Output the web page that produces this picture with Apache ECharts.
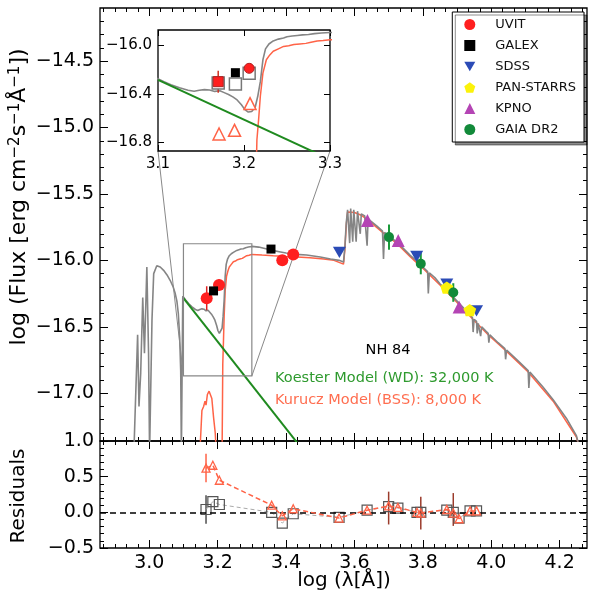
<!DOCTYPE html>
<html>
<head>
<meta charset="utf-8">
<script src="https://cdn.jsdelivr.net/npm/echarts@6/dist/echarts.min.js"></script>
<style>
html, body { margin: 0; padding: 0; background: #fff; }
#chart { width: 593px; height: 605px; }
</style>
</head>
<body>
<div id="chart"></div>
<script>
// composite model (WD + BSS), log lambda / log flux
const grayX = [2.955, 2.966, 2.970, 2.975, 2.981, 2.986, 2.993, 2.998, 3.001, 3.004, 3.008, 3.013, 3.022, 3.032, 3.042, 3.052, 3.061, 3.070, 3.076, 3.081, 3.085, 3.089, 3.092, 3.094, 3.096,
  3.098, 3.107, 3.115, 3.125, 3.135, 3.142, 3.148, 3.154, 3.160, 3.166, 3.172, 3.177, 3.182, 3.187, 3.192, 3.197, 3.201, 3.205, 3.209, 3.213, 3.216, 3.219, 3.222, 3.225, 3.229, 3.234,
  3.240, 3.246, 3.250, 3.256, 3.262, 3.268, 3.275, 3.282, 3.290, 3.300, 3.320, 3.344, 3.360, 3.380, 3.400, 3.430, 3.460, 3.500, 3.530, 3.555, 3.568, 3.572, 3.576, 3.580,
  3.584, 3.586, 3.589, 3.593, 3.595, 3.598, 3.602, 3.605, 3.609, 3.614, 3.617, 3.620, 3.630, 3.635, 3.637, 3.640, 3.646, 3.665, 3.682, 3.685, 3.688, 3.705, 3.724, 3.745, 3.763,
  3.780, 3.800, 3.814, 3.816, 3.819, 3.835, 3.850, 3.870, 3.889, 3.905, 3.930, 3.945, 3.947, 3.950, 3.957, 3.959, 3.962, 3.967, 3.969, 3.972, 3.985, 3.991, 3.993, 3.996,
  4.020, 4.040, 4.042, 4.045, 4.080, 4.108, 4.110, 4.113, 4.150, 4.181, 4.220, 4.249, 4.262];
const grayY = [-17.45, -16.56, -17.10, -16.85, -16.28, -16.70, -16.05, -16.70, -17.45, -17.45, -16.45, -16.10, -16.04, -16.05, -16.075, -16.11, -16.15, -16.20, -16.25, -16.31, -16.40, -16.58, -16.83, -17.45, -17.45,
  -16.27, -16.30, -16.325, -16.35, -16.37, -16.378, -16.37, -16.365, -16.368, -16.38, -16.375, -16.39, -16.405, -16.425, -16.45, -16.49, -16.53, -16.55, -16.545, -16.51, -16.42, -16.30, -16.12, -16.03, -15.99, -15.965,
  -15.95, -15.94, -15.93, -15.925, -15.92, -15.915, -15.912, -15.905, -15.90, -15.895, -15.90, -15.915, -15.925, -15.935, -15.945, -15.955, -15.96, -15.975, -15.99, -16.0, -16.013, -15.90, -15.72, -15.62,
  -15.61, -15.87, -15.61, -15.615, -15.86, -15.62, -15.625, -15.86, -15.63, -15.64, -15.80, -15.65, -15.665, -15.675, -15.89, -15.685, -15.70, -15.74, -15.78, -15.99, -15.79, -15.825, -15.862, -15.915, -15.962,
  -16.0, -16.05, -16.085, -16.25, -16.095, -16.13, -16.176, -16.225, -16.277, -16.32, -16.39, -16.43, -16.54, -16.445, -16.46, -16.55, -16.475, -16.49, -16.57, -16.50, -16.535, -16.55, -16.62, -16.56,
  -16.62, -16.665, -16.745, -16.675, -16.76, -16.83, -16.96, -16.84, -16.95, -17.05, -17.19, -17.32, -17.45];

// Kurucz model (BSS, 8000 K)
const bssX = [3.148, 3.154, 3.159, 3.163, 3.166, 3.170, 3.175, 3.180, 3.183, 3.188, 3.193, 3.196, 3.213, 3.215, 3.217, 3.219, 3.222, 3.226, 3.230, 3.234, 3.240, 3.246,
  3.252, 3.258, 3.265, 3.272, 3.278, 3.285, 3.292, 3.300, 3.330, 3.363, 3.400, 3.420, 3.470, 3.510, 3.540, 3.568, 3.572, 3.576, 3.580, 3.600, 3.620, 3.646, 3.685,
  3.724, 3.763, 3.800, 3.850, 3.889, 3.945, 3.991, 4.045, 4.108, 4.181, 4.249, 4.262];
const bssY = [-17.45, -17.13, -17.10, -17.06, -17.09, -17.01, -16.985, -16.97, -17.04, -17.18, -17.30, -17.45, -17.45, -16.78, -16.61, -16.42, -16.23, -16.12, -16.08, -16.05, -16.03, -16.01,
  -16.005, -15.995, -15.99, -15.985, -15.975, -15.965, -15.962, -15.955, -15.96, -15.965, -15.97, -15.972, -15.98, -15.99, -16.0, -16.028, -15.92, -15.74, -15.635, -15.64, -15.66, -15.71, -15.795,
  -15.872, -15.972, -16.06, -16.186, -16.287, -16.44, -16.56, -16.685, -16.84, -17.06, -17.33, -17.45];

// Koester model (WD, 32000 K)
const wdX = [3.10, 3.45];
const wdY = [-16.285, -17.43];

// photometry
const uvitX = [3.168, 3.204, 3.389, 3.421];
const uvitY = [-16.285, -16.185, -16.0, -15.955];
const uvitErr = [0.09, 0.04, 0.03, 0.03];
const galexX = [3.188, 3.356];
const galexY = [-16.23, -15.915];
const sdssX = [3.556, 3.782, 3.870, 3.957];
const sdssY = [-15.94, -15.97, -16.18, -16.38];
const psX = [3.870, 3.937];
const psY = [-16.205, -16.375];
const kpnoX = [3.638, 3.728, 3.906];
const kpnoY = [-15.70, -15.85, -16.352];
const gaiaX = [3.701, 3.794, 3.889];
const gaiaY = [-15.825, -16.025, -16.242];
const gaiaErr = [0.095, 0.08, 0.07];

// inset photometry
const insUvitX = [3.170, 3.206];
const insUvitY = [-16.30, -16.19];
const insUvitErr = [0.09, 0.02];
const insGalexX = [3.190];
const insGalexY = [-16.226];
const synCompX = [3.170, 3.190, 3.206];
const synCompY = [-16.31, -16.32, -16.23];
const synBssX = [3.171, 3.189, 3.207];
const synBssY = [-16.73, -16.70, -16.48];

// residuals
const resX = [3.166, 3.186, 3.205, 3.358, 3.389, 3.421, 3.555, 3.637, 3.700, 3.727, 3.783, 3.794, 3.870, 3.889, 3.906, 3.938, 3.957];
const resBss = [0.62, 0.66, 0.45, 0.10, -0.05, 0.05, -0.08, 0.03, 0.09, 0.07, 0.0, -0.01, 0.04, -0.01, -0.09, 0.02, 0.02];
const resComp = [0.04, 0.15, 0.11, 0.0, -0.15, -0.02, -0.07, 0.03, 0.08, 0.06, 0.0, 0.0, 0.03, 0.0, -0.08, 0.02, 0.02];
const resGaiaX = [3.700, 3.794, 3.889];
const resGaiaY = [0.06, -0.01, 0.04];
const resGaiaErr = [0.23, 0.23, 0.23];

// axis ranges and ticks
const mainX = [2.856, 4.28], mainY = [-17.36, -14.1], resY = [-0.5, 1.0];
const insetX = [3.1, 3.3], insetY = [-16.87, -15.875];
const xMajor = [3.0, 3.2, 3.4, 3.6, 3.8, 4.0, 4.2];
const xMinor = [];
for (let k = -4; k <= 38; k++) xMinor.push(+(3 + k / 30).toFixed(4));
const yMajor = [-17.0, -16.5, -16.0, -15.5, -15.0, -14.5];
const yMinor = [];
for (let k = -173; k <= -142; k++) yMinor.push(k / 10);
const resYMajor = [-0.5, 0.0, 0.5, 1.0];
const resYMinor = [];
for (let k = -4; k <= 9; k++) resYMinor.push(k / 10);
const insetXTicks = [3.1, 3.2, 3.3];
const insetYTicks = [-16.8, -16.4, -16.0];

const FONT = '"DejaVu Sans", sans-serif';
const RED = '#ff6347';
const fmt1 = v => v.toFixed(1).replace('-', '\u2212');
const zip = (xs, ys) => xs.map((x, i) => [x, ys[i]]);
const zip3 = (xs, ys, es) => xs.map((x, i) => [x, ys[i], es[i]]);

function axis(grid, range, pos, ticks, len, labels, fontSize, z) {
  const a = {
    type: 'value', gridIndex: grid, min: range[0], max: range[1], position: pos, z: z || 0,
    axisLine: { show: false, onZero: false }, splitLine: { show: false },
    axisTick: { show: true, inside: true, length: len, customValues: ticks, lineStyle: { color: '#000', width: 1 } },
    axisLabel: { show: false }
  };
  if (labels) {
    a.axisLabel = { show: true, customValues: labels, formatter: fmt1, margin: 6,
      color: '#000', fontFamily: FONT, fontSize: fontSize };
  }
  return a;
}

const lineS = (name, xi, yi, data, color, width, z) => ({
  name, type: 'line', xAxisIndex: xi, yAxisIndex: yi, data, symbol: 'none', showSymbol: false,
  lineStyle: { color, width }, itemStyle: { color }, z, silent: true, clip: true
});
const scat = (name, xi, yi, data, symbol, size, color, z, extra) => ({
  name, type: 'scatter', xAxisIndex: xi, yAxisIndex: yi, data, symbol, symbolSize: size, symbolKeepAspect: true,
  itemStyle: Object.assign({ color, opacity: 1 }, extra || {}), z, silent: true
});
const errS = (xi, yi, data, color, width, z) => ({
  type: 'custom', xAxisIndex: xi, yAxisIndex: yi, data, z, silent: true, clip: true,
  renderItem: (p, api) => {
    const a = api.coord([api.value(0), api.value(1) - api.value(2)]);
    const b = api.coord([api.value(0), api.value(1) + api.value(2)]);
    return { type: 'line', shape: { x1: a[0], y1: a[1], x2: b[0], y2: b[1] },
      style: { stroke: color, lineWidth: width } };
  }
});

const DOWN = 'path://M0,0L100,0L50,87Z';
const PENT = 'path://M50,0L97.6,34.5L79.4,90.5L20.6,90.5L2.4,34.5Z';

const chart = echarts.init(document.getElementById('chart'), null, { renderer: 'canvas' });

const option = {
  animation: false,
  backgroundColor: '#fff',
  grid: [
    { left: 100, top: 8, width: 487, height: 433, show: true, borderColor: '#000', borderWidth: 1.3, backgroundColor: 'transparent' },
    { left: 100, top: 441, width: 487, height: 107, show: true, borderColor: '#000', borderWidth: 1.3, backgroundColor: 'transparent' },
    { left: 158, top: 30, width: 172, height: 121, show: true, borderColor: '#000', borderWidth: 1.3, backgroundColor: '#fff', z: 5 }
  ],
  xAxis: [
    axis(0, mainX, 'bottom', xMajor, 8),
    axis(0, mainX, 'bottom', xMinor, 4),
    axis(0, mainX, 'top', xMajor, 8),
    axis(0, mainX, 'top', xMinor, 4),
    axis(1, mainX, 'bottom', xMajor, 8, xMajor, 19),
    axis(1, mainX, 'bottom', xMinor, 4),
    axis(1, mainX, 'top', xMajor, 8),
    axis(1, mainX, 'top', xMinor, 4),
    axis(2, insetX, 'bottom', insetXTicks, 6, insetXTicks, 15, 6),
    axis(2, insetX, 'top', insetXTicks, 6, null, 0, 6)
  ],
  yAxis: [
    axis(0, mainY, 'left', yMajor, 8, yMajor, 19),
    axis(0, mainY, 'left', yMinor, 4),
    axis(0, mainY, 'right', yMajor, 8),
    axis(0, mainY, 'right', yMinor, 4),
    axis(1, resY, 'left', resYMajor, 8, resYMajor, 19),
    axis(1, resY, 'left', resYMinor, 4),
    axis(1, resY, 'right', resYMajor, 8),
    axis(1, resY, 'right', resYMinor, 4),
    axis(2, insetY, 'left', insetYTicks, 6, insetYTicks, 15, 6),
    axis(2, insetY, 'right', insetYTicks, 6, null, 0, 6)
  ],
  legend: {
    data: ['UVIT', 'GALEX', 'SDSS', 'PAN-STARRS', 'KPNO', 'GAIA DR2'],
    orient: 'vertical', right: 9, top: 12,
    itemWidth: 11, itemHeight: 11, itemGap: 8, symbolKeepAspect: true,
    padding: [6, 8, 6, 12],
    backgroundColor: '#fff', borderColor: '#000', borderWidth: 1, borderRadius: 0,
    shadowColor: 'rgba(0,0,0,0.45)', shadowOffsetX: 3, shadowOffsetY: 3, shadowBlur: 0,
    textStyle: { fontFamily: FONT, fontSize: 13, color: '#111', padding: [0, 0, 0, 15] },
    selectedMode: false, z: 20
  },
  graphic: [
    { id: 'ylab', type: 'text', x: 19, y: 197, rotation: Math.PI / 2,
      style: { text: '{a|log (Flux [erg cm}{s|\u22122}{a|s}{s|\u22121}{a|\u00c5}{s|\u22121}{a|])}',
        align: 'center', verticalAlign: 'middle',
        rich: { a: { fontFamily: FONT, fontSize: 22, fill: '#000' },
                s: { fontFamily: FONT, fontSize: 15, fill: '#000', verticalAlign: 'top' } } } },
    { id: 'rlab', type: 'text', x: 19, y: 496, rotation: Math.PI / 2,
      style: { text: 'Residuals', align: 'center', verticalAlign: 'middle', font: '20px ' + FONT, fill: '#000' } },
    { id: 'xlab', type: 'text', x: 344, y: 581,
      style: { text: 'log (\u03bb[\u00c5])', align: 'center', verticalAlign: 'middle', font: '20px ' + FONT, fill: '#000' } },
    { id: 'nh', type: 'text', x: 388, y: 350,
      style: { text: 'NH 84', align: 'center', verticalAlign: 'middle', font: '14.5px ' + FONT, fill: '#000' } },
    { id: 'wd', type: 'text', x: 275, y: 378,
      style: { text: 'Koester Model (WD): 32,000 K', align: 'left', verticalAlign: 'middle', font: '14.5px ' + FONT, fill: '#2e9a2e' } },
    { id: 'bss', type: 'text', x: 275, y: 400,
      style: { text: 'Kurucz Model (BSS): 8,000 K', align: 'left', verticalAlign: 'middle', font: '14.5px ' + FONT, fill: '#ff6e50' } }
  ],
  series: [
    // main panel
    lineS('BSS model', 0, 0, zip(bssX, bssY), RED, 1.5, 2),
    lineS('Composite', 0, 0, zip(grayX, grayY), '#858585', 1.6, 2),
    lineS('WD model', 0, 0, zip(wdX, wdY), '#1f8a1f', 2, 2),
    errS(0, 0, zip3(uvitX, uvitY, uvitErr), '#e02020', 1.5, 3),
    errS(0, 0, zip3(gaiaX, gaiaY, gaiaErr), '#1a9a3a', 2, 3),
    scat('UVIT', 0, 0, zip(uvitX, uvitY), 'circle', 12, '#ff1f1f', 4),
    scat('GALEX', 0, 0, zip(galexX, galexY), 'rect', 9, '#000', 4),
    scat('SDSS', 0, 0, zip(sdssX, sdssY), DOWN, 13, '#2b4bb6', 4),
    scat('PAN-STARRS', 0, 0, zip(psX, psY), PENT, 13, '#fbf20a', 4),
    scat('KPNO', 0, 0, zip(kpnoX, kpnoY), 'triangle', 13, '#b444b4', 4),
    scat('GAIA DR2', 0, 0, zip(gaiaX, gaiaY), 'circle', 10, '#128a3a', 4),
    // inset
    lineS('BSS inset', 8, 8, zip(bssX, bssY), RED, 1.5, 7),
    lineS('Composite inset', 8, 8, zip(grayX, grayY), '#858585', 1.6, 7),
    lineS('WD inset', 8, 8, zip(wdX, wdY), '#1f8a1f', 2, 7),
    scat('syn comp', 8, 8, zip(synCompX, synCompY), 'rect', 12, '#fff', 8, { borderColor: '#777', borderWidth: 1.5 }),
    scat('syn bss', 8, 8, zip(synBssX, synBssY), 'triangle', 12, '#fff', 8, { borderColor: RED, borderWidth: 1.5 }),
    errS(8, 8, zip3(insUvitX, insUvitY, insUvitErr), '#d03020', 1.5, 8),
    scat('UVIT inset', 8, 8, [{ value: [insUvitX[0], insUvitY[0]], symbol: 'rect' }, { value: [insUvitX[1], insUvitY[1]] }],
      'circle', 10, '#ff1f1f', 9, { borderColor: '#b02020', borderWidth: 1 }),
    scat('GALEX inset', 8, 8, zip(insGalexX, insGalexY), 'rect', 9, '#000', 9),
    // residuals
    errS(4, 4, zip3([resX[0]], [resComp[0]], [0.2]), '#222', 1.2, 3),
    errS(4, 4, zip3([resX[0]], [resBss[0]], [0.2]), RED, 1.5, 3),
    errS(4, 4, zip3(resGaiaX, resGaiaY, resGaiaErr), '#9b3b2b', 1.5, 3),
    {
      name: 'res comp', type: 'line', xAxisIndex: 4, yAxisIndex: 4, data: zip(resX, resComp),
      symbol: 'rect', symbolSize: 10, showSymbol: true, showAllSymbol: true, silent: true, z: 4,
      lineStyle: { color: '#aaa', width: 1, type: [4, 3] },
      itemStyle: { color: 'rgba(0,0,0,0)', borderColor: '#555', borderWidth: 1.2 },
      markLine: { silent: true, symbol: 'none', label: { show: false },
        lineStyle: { color: '#000', width: 1.5, type: [6, 4] }, data: [{ yAxis: 0 }] }
    },
    {
      name: 'res bss', type: 'line', xAxisIndex: 4, yAxisIndex: 4, data: zip(resX, resBss),
      symbol: 'triangle', symbolSize: 8, showSymbol: true, showAllSymbol: true, silent: true, z: 5,
      lineStyle: { color: RED, width: 1.5, type: [5, 3] },
      itemStyle: { color: 'rgba(0,0,0,0)', borderColor: RED, borderWidth: 1.3 }
    }
  ]
};

chart.setOption(option);

// zoom box and connector lines, placed through the axes
const mainF = { xAxisIndex: 0, yAxisIndex: 0 }, insF = { xAxisIndex: 8, yAxisIndex: 8 };
const bl = chart.convertToPixel(mainF, [insetX[0], insetY[0]]);
const tr = chart.convertToPixel(mainF, [insetX[1], insetY[1]]);
const br = chart.convertToPixel(mainF, [insetX[1], insetY[0]]);
const ibl = chart.convertToPixel(insF, [insetX[0], insetY[0]]);
const ibr = chart.convertToPixel(insF, [insetX[1], insetY[0]]);
chart.setOption({
  graphic: [
    { id: 'box', type: 'rect', z: 3, shape: { x: bl[0], y: tr[1], width: tr[0] - bl[0], height: bl[1] - tr[1] },
      style: { fill: 'none', stroke: '#888', lineWidth: 1.2 } },
    { id: 'c1', type: 'line', z: 3, shape: { x1: bl[0], y1: bl[1], x2: ibl[0], y2: ibl[1] },
      style: { stroke: '#888', lineWidth: 1 } },
    { id: 'c2', type: 'line', z: 3, shape: { x1: br[0], y1: br[1], x2: ibr[0], y2: ibr[1] },
      style: { stroke: '#888', lineWidth: 1 } }
  ]
});
</script>
</body>
</html>
